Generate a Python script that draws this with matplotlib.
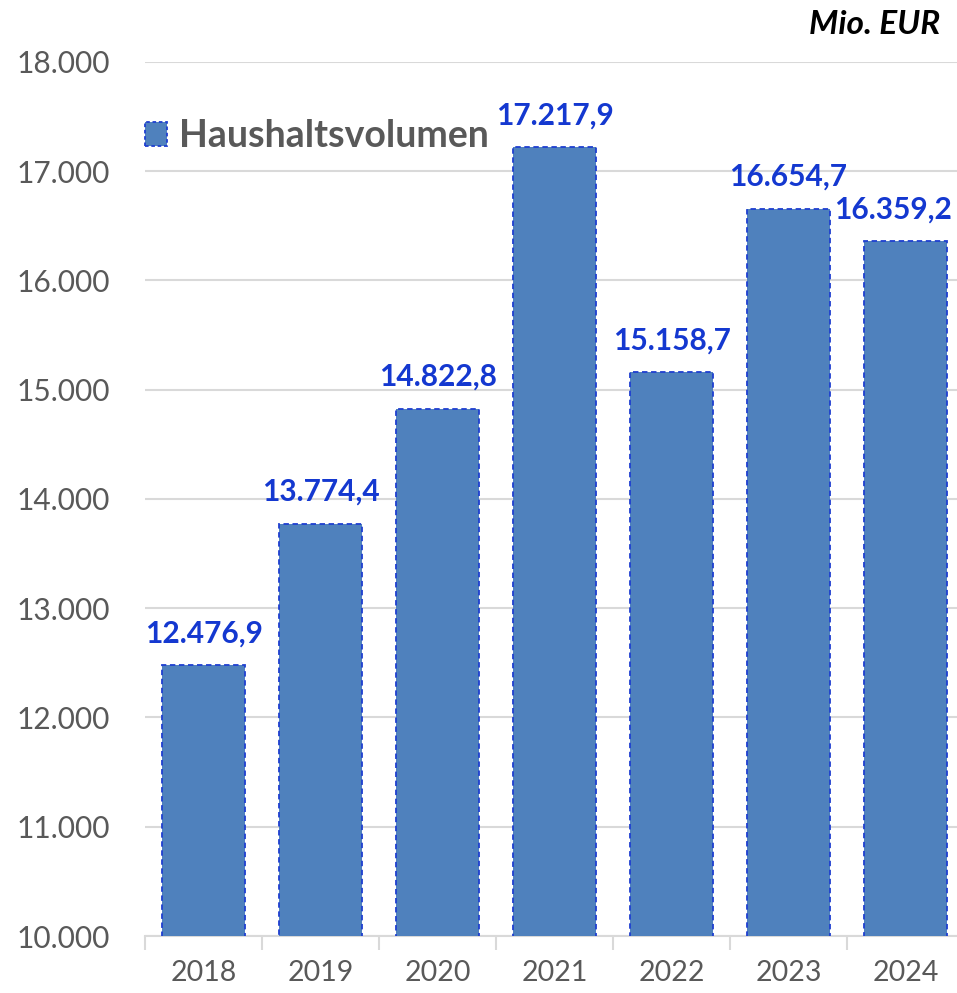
import numpy as np
import matplotlib.pyplot as plt
from matplotlib.patches import Patch

years = ["2018", "2019", "2020", "2021", "2022", "2023", "2024"]
volumen = [12476.9, 13774.4, 14822.8, 17217.9, 15158.7, 16654.7, 16359.2]
y_ticks = [10000, 11000, 12000, 13000, 14000, 15000, 16000, 17000, 18000]


def de_fmt(v, dec=0):
    s = f"{v:,.{dec}f}"
    return s.replace(",", "X").replace(".", ",").replace("X", ".")


plt.rcParams['font.family'] = ['Lato', 'DejaVu Sans']

fill = '#4F81BD'
edge = '#1F3FD0'
label_col = '#1438D0'
gray = '#595959'

fig = plt.figure(figsize=(9.57, 9.93), dpi=100)
ax = fig.add_axes([145 / 957, 0.0574, 819 / 957, 0.8802])

x = np.arange(len(years))
ax.bar(x, volumen, width=0.71, color=fill, edgecolor=edge,
       linewidth=1.3, linestyle=(0, (3, 2)), zorder=3)

for i, (xi, v) in enumerate(zip(x, volumen)):
    dx = -9 if i == len(x) - 1 else 0
    ax.annotate(de_fmt(v, 1), (xi, v), xytext=(dx, 13), textcoords='offset points',
                ha='center', va='bottom', fontsize=21.5, fontweight='bold',
                color=label_col, zorder=5)

ax.set_ylim(10000, 18000)
ax.set_xlim(-0.5, 6.5)
ax.set_yticks(y_ticks)
ax.set_yticklabels([de_fmt(t) for t in y_ticks], fontsize=21.5, color=gray)
ax.set_xticks(x)
ax.set_xticklabels(years, fontsize=20.5, color=gray)
ax.set_xticks(np.arange(-0.5, 7, 1), minor=True)
ax.tick_params(axis='x', which='major', length=0, pad=17)
ax.tick_params(axis='x', which='minor', length=10, width=1.5, color='#D9D9D9')
ax.tick_params(axis='y', length=0, pad=25)

ax.grid(axis='y', color='#D9D9D9', linewidth=1.5, zorder=0)
for s in ['top', 'right', 'left']:
    ax.spines[s].set_visible(False)
ax.spines['bottom'].set_color('#D9D9D9')
ax.spines['bottom'].set_linewidth(1.5)

handle = Patch(facecolor=fill, edgecolor=edge, linestyle=(0, (2, 1.5)), linewidth=1.3)
leg = ax.legend([handle], ["Haushaltsvolumen"], loc='center left',
                bbox_to_anchor=(-0.023, 0.915), frameon=False, handlelength=0.6,
                handleheight=0.6, handletextpad=0.3, borderpad=0,
                prop={'size': 27, 'weight': 'bold'})
for t in leg.get_texts():
    t.set_color(gray)

fig.text(940 / 957, 1 - 25 / 993, "Mio. EUR", ha='right', va='center',
         fontsize=24, fontweight='bold', fontstyle='italic', color='black')

fig.savefig("out.png", dpi=100)
